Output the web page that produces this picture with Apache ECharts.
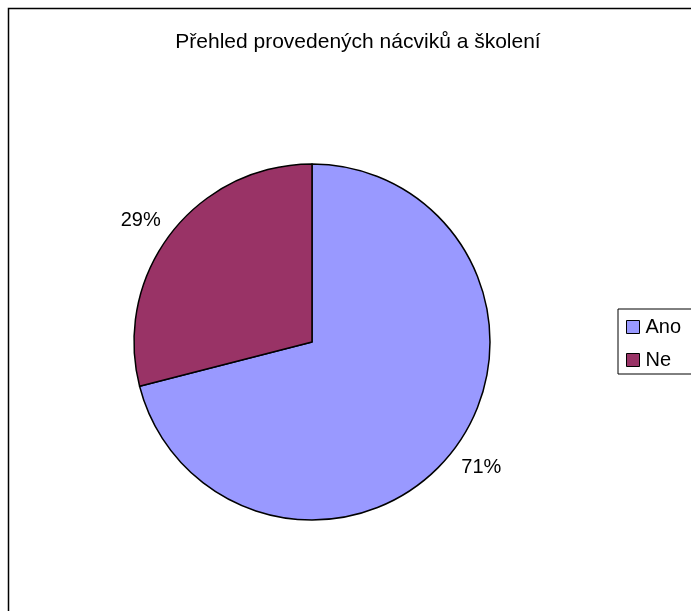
<!DOCTYPE html>
<html>
<head>
<meta charset="utf-8">
<script src="https://cdn.jsdelivr.net/npm/echarts@6/dist/echarts.min.js"></script>
<style>
  html, body { margin: 0; padding: 0; background: #fff; }
  #chart { width: 691px; height: 611px; }
</style>
</head>
<body>
<div id="chart"></div>
<script>
var titleText = 'Přehled provedených nácviků a školení'
var categories = ['Ano', 'Ne']
var values = [71, 29]
var colors = ['#9999FF', '#993366']

var labelOffsets = [[1, -5], [-3, 9]]

var pieData = categories.map(function (name, i) {
  return { name: name, value: values[i], itemStyle: { color: colors[i] } }
})

var myChart = echarts.init(document.getElementById('chart'))
var option = {
  animation: false,
  backgroundColor: '#fff',
  title: {
    text: titleText,
    left: 353,
    top: 27,
    textAlign: 'center',
    textStyle: {
      fontFamily: 'Liberation Sans, Arial, sans-serif',
      fontSize: 21,
      fontWeight: 'normal',
      color: '#000'
    }
  },
  graphic: [{
    type: 'rect',
    shape: { x: 8.5, y: 8.5, width: 800, height: 800 },
    style: { fill: 'none', stroke: '#000', lineWidth: 1.5 },
    silent: true
  }],
  legend: {
    orient: 'vertical',
    left: 618,
    top: 309,
    padding: [8, 40, 4, 8],
    borderColor: '#000',
    borderWidth: 1,
    itemWidth: 13,
    itemHeight: 13,
    itemGap: 13,
    icon: 'rect',
    data: categories,
    itemStyle: { borderColor: '#000', borderWidth: 1 },
    textStyle: {
      fontFamily: 'Liberation Sans, Arial, sans-serif',
      fontSize: 20,
      color: '#000',
      padding: [0, 0, 0, 1]
    }
  },
  series: [
    {
      name: 'pie',
      type: 'pie',
      center: [312, 342],
      radius: 178,
      startAngle: 90,
      clockwise: true,
      label: { show: false },
      labelLine: { show: false },
      itemStyle: { borderColor: '#000', borderWidth: 1.5 },
      emphasis: { disabled: true },
      data: pieData
    },
    {
      name: 'labels',
      type: 'pie',
      center: [312, 342],
      radius: [205, 215],
      startAngle: 90,
      clockwise: true,
      silent: true,
      legendHoverLink: false,
      itemStyle: { color: 'transparent' },
      label: {
        show: true,
        position: 'inside',
        formatter: function (p) { return Math.round(p.percent) + '%' },
        fontFamily: 'Liberation Sans, Arial, sans-serif',
        fontSize: 20,
        color: '#000'
      },
      labelLine: { show: false },
      data: categories.map(function (name, i) {
        return { name: name + ' ', value: values[i], label: { offset: labelOffsets[i] } }
      })
    }
  ]
}
myChart.setOption(option)
</script>
</body>
</html>
